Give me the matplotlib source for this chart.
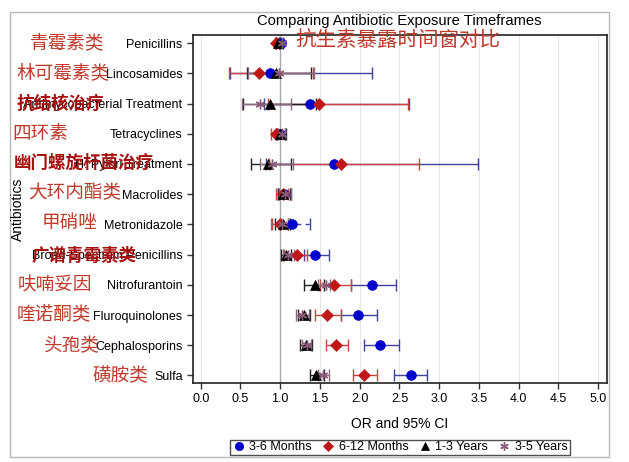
import matplotlib
matplotlib.use("Agg")
import matplotlib.pyplot as plt
from matplotlib.patches import Rectangle
from matplotlib.lines import Line2D
import numpy as np

plt.rcParams['font.family'] = ['Liberation Sans', 'Noto Sans CJK SC', 'DejaVu Sans']

categories = ["Penicillins", "Lincosamides", "Antimycobacterial Treatment", "Tetracyclines",
              "H. Pylori Treatment", "Macrolides", "Metronidazole", "Broad-Spectrum Penicillins",
              "Nitrofurantoin", "Fluroquinolones", "Cephalosporins", "Sulfa"]
cn_labels = ["青霉素类", "林可霉素类", "抗结核治疗", "四环素", "幽门螺旋杆菌治疗", "大环内酯类",
             "甲硝唑", "广谱青霉素类", "呋喃妥因", "喹诺酮类", "头孢类", "磺胺类"]

m36 =    [1.01, 0.87, 1.38, 1.00, 1.68, 1.05, 1.15, 1.44, 2.16, 1.98, 2.26, 2.64]
m36_lo = [0.98, 0.37, 0.80, 0.96, 0.82, 0.97, 1.00, 1.30, 1.89, 1.76, 2.05, 2.43]
m36_hi = [1.04, 2.15, 2.62, 1.06, 3.49, 1.13, 1.38, 1.61, 2.46, 2.22, 2.49, 2.85]

m612 =    [0.95, 0.73, 1.49, 0.95, 1.77, 1.03, 1.00, 1.21, 1.68, 1.59, 1.70, 2.06]
m612_lo = [0.93, 0.36, 0.85, 0.88, 0.86, 0.95, 0.90, 1.05, 1.50, 1.44, 1.57, 1.92]
m612_hi = [0.98, 1.41, 2.61, 1.02, 2.75, 1.10, 1.10, 1.34, 1.89, 1.76, 1.85, 2.22]

y13 =    [0.97, 0.95, 0.87, 1.00, 0.85, 1.04, 1.04, 1.07, 1.44, 1.30, 1.32, 1.45]
y13_lo = [0.95, 0.58, 0.53, 0.95, 0.63, 0.97, 0.93, 1.01, 1.30, 1.22, 1.25, 1.38]
y13_hi = [1.00, 1.39, 1.45, 1.07, 1.13, 1.12, 1.12, 1.14, 1.55, 1.38, 1.40, 1.55]

y35 =    [1.02, 0.99, 0.75, 1.02, 0.90, 1.06, 1.02, 1.10, 1.57, 1.28, 1.34, 1.54]
y35_lo = [1.00, 0.60, 0.52, 0.97, 0.74, 0.99, 0.89, 1.03, 1.48, 1.20, 1.27, 1.47]
y35_hi = [1.04, 1.43, 1.14, 1.06, 1.16, 1.14, 1.10, 1.17, 1.62, 1.36, 1.39, 1.61]

# rows whose 3-6 month CI is drawn dashed in the reference
dashed_blue = ["Metronidazole"]

series_names = ["3-6 Months", "6-12 Months", "1-3 Years", "3-5 Years"]
xticks = [0.0, 0.5, 1.0, 1.5, 2.0, 2.5, 3.0, 3.5, 4.0, 4.5, 5.0]

W, H = 629, 462
fig = plt.figure(figsize=(W / 100, H / 100), dpi=100)
fig.patch.set_facecolor('white')

def fx(px):
    return px / W

def fy(py):
    return 1 - py / H

# outer light frame
fig.add_artist(Rectangle((fx(10), fy(457)), fx(609) - fx(10), fy(12) - fy(457),
                         transform=fig.transFigure, fill=False, edgecolor='#b8b8b8', lw=1.0))

ax = fig.add_axes([fx(193), fy(383), fx(607) - fx(193), fy(35) - fy(383)])
y = np.arange(len(categories))

styles = [
    dict(vals=(m36, m36_lo, m36_hi), marker='o', mc='#0000cc', lc='#4040a0', ms=7),
    dict(vals=(m612, m612_lo, m612_hi), marker='D', mc='#c01818', lc='#d04040', ms=6),
    dict(vals=(y13, y13_lo, y13_hi), marker='^', mc='#000000', lc='#202020', ms=7),
    dict(vals=(y35, y35_lo, y35_hi), marker=(6, 2, 0), mc='#8a5a78', lc='#8a6a80', ms=7),
]
handles = []
for i, st in enumerate(styles):
    v, lo, hi = [np.array(a) for a in st['vals']]
    if i == 0:
        solid = np.array([c not in dashed_blue for c in categories])
    else:
        solid = np.ones(len(categories), dtype=bool)
    ax.errorbar(v[solid], y[solid], xerr=[(v - lo)[solid], (hi - v)[solid]], fmt='none',
                ecolor=st['lc'], elinewidth=1.0, capsize=4, capthick=1.0, zorder=3 + i)
    if (~solid).any():
        eb = ax.errorbar(v[~solid], y[~solid], xerr=[(v - lo)[~solid], (hi - v)[~solid]],
                         fmt='none', ecolor=st['lc'], elinewidth=1.0, capsize=4, capthick=1.0,
                         zorder=3 + i)
        for lc in eb.lines[2]:
            lc.set_linestyle((0, (3, 3)))
    ax.plot(v, y, linestyle='none', marker=st['marker'], color=st['mc'], markersize=st['ms'],
            markeredgewidth=1.0 if i == 3 else 0.5, zorder=10 + i)
    handles.append(Line2D([], [], linestyle='none', marker=st['marker'], color=st['mc'],
                          markersize=st['ms'] - 1, markeredgewidth=1.0 if i == 3 else 0.5))

ax.set_xlim(-0.097, 5.11)
ax.set_ylim(11.25, -0.27)
ax.set_yticks(y)
ax.set_yticklabels(categories, fontsize=9)
ax.set_xticks(xticks)
ax.set_xticklabels([f"{t:.1f}" for t in xticks], fontsize=9)
for t in xticks:
    ax.axvline(t, color='#a8a8a8' if t == 1.0 else '#e6e6e6', lw=1.0 if t == 1.0 else 0.8, zorder=1)
ax.tick_params(axis='both', direction='out', length=4, width=1, color='#333333')
for s in ax.spines.values():
    s.set_color('#222222')
    s.set_linewidth(1.2)
ax.set_xlabel("OR and 95% CI", fontsize=10, labelpad=8)
fig.text(fx(18), fy(209), "Antibiotics", rotation=90, fontsize=10, ha='center', va='center')

fig.text(fx(399), fy(21), "Comparing Antibiotic Exposure Timeframes", fontsize=10.6,
         ha='center', va='center')
fig.text(fx(398), fy(40), "抗生素暴露时间窗对比", fontsize=14.8, color='#c0392b',
         ha='center', va='center', family=['Noto Sans CJK SC'])

cn_pos = [(67, 43, False), (63, 73, False), (60, 104, True), (40, 134, False),
          (84, 163, True), (75, 193, False), (70, 223, False), (84, 256, True),
          (55, 285, False), (54, 315, False), (72, 346, False), (120, 376, False)]
for lab, (px, py, bold) in zip(cn_labels, cn_pos):
    fig.text(fx(px), fy(py), lab, fontsize=12.6 if bold else 13.4, ha='center', va='center',
             color='#a80f0f' if bold else '#c0392b', fontweight='bold' if bold else 'normal',
             family=['Noto Sans CJK SC'])

leg = fig.legend(handles, series_names, loc='center', bbox_to_anchor=(fx(400), fy(447.5)),
                 ncol=4, fontsize=9, frameon=True, fancybox=False, edgecolor='#222222',
                 handlelength=1.0, handletextpad=0.35, columnspacing=0.8, borderpad=0.15,
                 borderaxespad=0)
leg.get_frame().set_linewidth(1.0)

fig.savefig("out.png", dpi=100)
